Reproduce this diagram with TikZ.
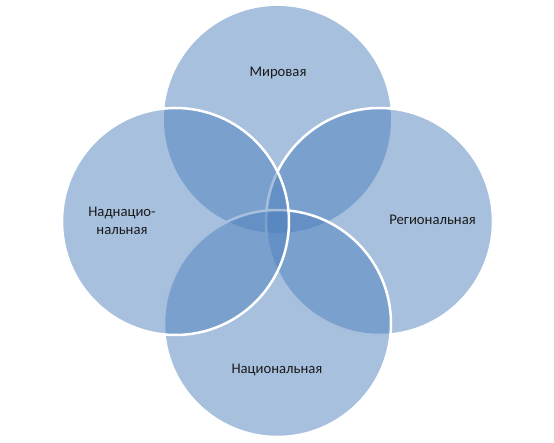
\documentclass[tikz,border=0pt]{standalone}
\usepackage{fontspec}
\setmainfont{Carlito}
\usepackage{tikz}
\usetikzlibrary{positioning}

\definecolor{vennblue}{HTML}{4F81BD}
\definecolor{venntext}{HTML}{1A1A1A}

\begin{document}
\begin{tikzpicture}[x=1pt, y=1pt,
    venn/.style = {circle, minimum size=227pt, inner sep=0pt, fill=vennblue, fill opacity=0.5, draw=white, line width=2.5pt},
    label/.style = {text=venntext, font=\fontsize{14.67}{17.6}\selectfont, align=center}]
   \useasboundingbox (0,0) rectangle (554,443);
   \node[venn, draw=none] (c_top) at (277.5,323.5) {};
   \node[venn] (c_right) at (379.5,221.5) {};
   \node[venn] (c_bottom) at (277.5,119.5) {};
   \node[venn] (c_left) at (175.5,221.5) {};
   \node[label] (l_top) at (278,370) {Мировая};
   \node[label] (l_right) at (432.5,223) {Региональная};
   \node[label] (l_bottom) at (277,73) {Национальная};
   \node[label] (l_left) at (122,222) {Наднацио-\\нальная};
\end{tikzpicture}
\end{document}
